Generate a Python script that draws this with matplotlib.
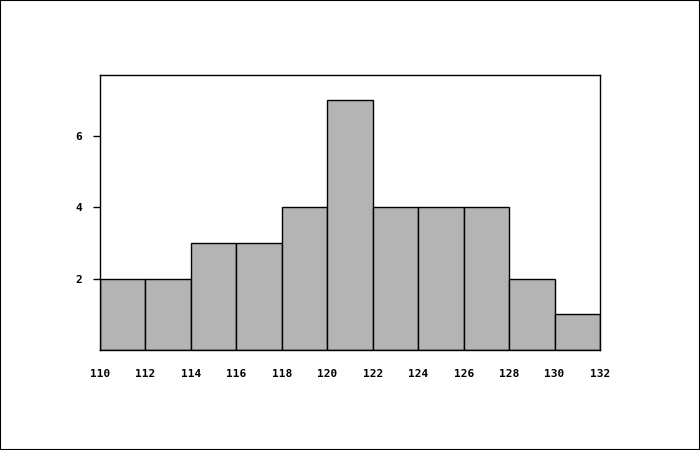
import matplotlib
matplotlib.use("Agg")
import matplotlib.pyplot as plt
import matplotlib.patches as patches

bin_edges = [110, 112, 114, 116, 118, 120, 122, 124, 126, 128, 130, 132]
counts = [2, 2, 3, 3, 4, 7, 4, 4, 4, 2, 1]
y_ticks = [2, 4, 6]

fig = plt.figure(figsize=(7, 4.5), dpi=100)
ax = fig.add_axes([100/700, 1 - 350/450, 500/700, 275/450])

ax.bar(bin_edges[:-1], counts, width=2, align='edge', color='#b4b4b4',
       edgecolor='black', linewidth=1)

ax.set_xlim(110, 132)
ax.set_ylim(0, 7.7)
ax.set_xticks(bin_edges)
ax.set_yticks(y_ticks)

tick_font = dict(family='DejaVu Sans Mono', weight='bold', size=8)
ax.set_xticklabels([str(v) for v in bin_edges], **tick_font)
ax.set_yticklabels([str(v) for v in y_ticks], **tick_font)
ax.tick_params(axis='x', length=0, pad=14)
ax.tick_params(axis='y', length=5, width=1, pad=8)
for s in ax.spines.values():
    s.set_linewidth(1)

# figure border
fig.patches.append(patches.Rectangle((0, 0), 1, 1, transform=fig.transFigure,
                                     fill=False, edgecolor='black', linewidth=1.5))

fig.savefig('out.png', dpi=100)
